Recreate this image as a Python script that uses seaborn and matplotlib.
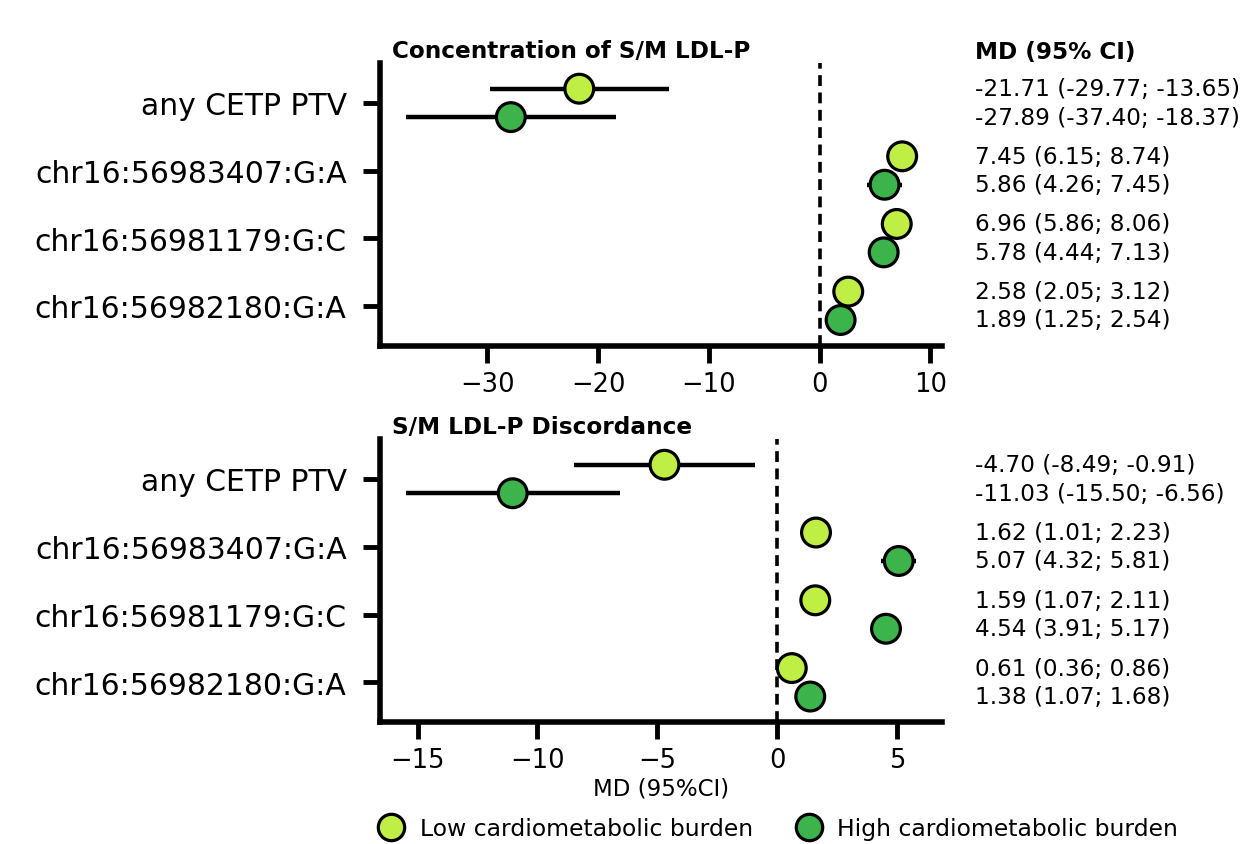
import numpy as np
import pandas as pd
import matplotlib
matplotlib.use("Agg")
import matplotlib.pyplot as plt
import matplotlib.transforms as mtransforms
from matplotlib.lines import Line2D
import seaborn as sns

# ---------------- data ----------------
variants = ["any CETP PTV", "chr16:56983407:G:A", "chr16:56981179:G:C", "chr16:56982180:G:A"]
groups = ["Low cardiometabolic burden", "High cardiometabolic burden"]
panel_titles = ["Concentration of S/M LDL-P", "S/M LDL-P Discordance"]

conc_low_md = [-21.71, 7.45, 6.96, 2.58]
conc_low_lo = [-29.77, 6.15, 5.86, 2.05]
conc_low_hi = [-13.65, 8.74, 8.06, 3.12]
conc_high_md = [-27.89, 5.86, 5.78, 1.89]
conc_high_lo = [-37.40, 4.26, 4.44, 1.25]
conc_high_hi = [-18.37, 7.45, 7.13, 2.54]

disc_low_md = [-4.70, 1.62, 1.59, 0.61]
disc_low_lo = [-8.49, 1.01, 1.07, 0.36]
disc_low_hi = [-0.91, 2.23, 2.11, 0.86]
disc_high_md = [-11.03, 5.07, 4.54, 1.38]
disc_high_lo = [-15.50, 4.32, 3.91, 1.07]
disc_high_hi = [-6.56, 5.81, 5.17, 1.68]

# ---------------- style ----------------
sns.set_style("ticks")
plt.rcParams["font.family"] = ["DejaVu Sans"]
for key in ["text.color", "axes.labelcolor", "axes.edgecolor", "xtick.color", "ytick.color"]:
    plt.rcParams[key] = "black"
colors = {groups[0]: "#bfef45", groups[1]: "#3cb44b"}
offsets = {groups[0]: -0.21, groups[1]: 0.21}


def build_df(low_md, low_lo, low_hi, high_md, high_lo, high_hi):
    rows = []
    for g, md, lo, hi in [(groups[0], low_md, low_lo, low_hi),
                          (groups[1], high_md, high_lo, high_hi)]:
        for i, v in enumerate(variants):
            rows.append(dict(variant=v, group=g, md=md[i], lo=lo[i], hi=hi[i],
                             y=i + offsets[g]))
    return pd.DataFrame(rows)


dfs = [build_df(conc_low_md, conc_low_lo, conc_low_hi, conc_high_md, conc_high_lo, conc_high_hi),
       build_df(disc_low_md, disc_low_lo, disc_low_hi, disc_high_md, disc_high_lo, disc_high_hi)]

W, H = 1243, 845
fig = plt.figure(figsize=(W / 100, H / 100), dpi=100)
ax_boxes = [
    [380 / W, 1 - 346.7 / H, (942 - 380) / W, (346.7 - 64) / H],
    [380 / W, 1 - 723.3 / H, (942 - 380) / W, (723.3 - 440) / H],
]
title_y = [52, 428]

for k, df in enumerate(dfs):
    ax = fig.add_axes(ax_boxes[k])
    # CI lines
    for g in groups:
        sub = df[df.group == g]
        ax.hlines(sub["y"], sub["lo"], sub["hi"], color="black", lw=3.2, zorder=2)
    sns.scatterplot(data=df, x="md", y="y", hue="group", palette=colors,
                    s=430, edgecolor="black", linewidth=2.3, zorder=3,
                    legend=False, ax=ax)
    ax.axvline(0, color="black", ls=(0, (3.0, 1.8)), lw=2.6, zorder=1)
    ax.set_yticks(range(len(variants)))
    ax.set_yticklabels(variants, fontsize=21.5)
    ax.set_ylim(len(variants) - 1 + 0.59, -0.59)
    ax.set_xlabel("")
    ax.set_ylabel("")
    ax.tick_params(axis="x", labelsize=18.5, width=3.5, length=12, pad=6)
    ax.tick_params(axis="y", width=3.5, length=12, pad=12)
    for s in ["left", "bottom"]:
        ax.spines[s].set_linewidth(4)
    sns.despine(ax=ax)

    fig.text(392 / W, 1 - title_y[k] / H, panel_titles[k], fontsize=16.7,
             fontweight="bold", va="center", ha="left")

    # right column text
    trans = mtransforms.blended_transform_factory(fig.transFigure, ax.transData)
    for _, r in df.iterrows():
        ax.text(975 / W, r["y"], f"{r['md']:.2f} ({r['lo']:.2f}; {r['hi']:.2f})",
                transform=trans, fontsize=16.7, va="center", ha="left", clip_on=False)
    if k == 1:
        ax.set_xlabel("MD (95%CI)", fontsize=16.5, labelpad=2)

fig.text(975 / W, 1 - 52 / H, "MD (95% CI)", fontsize=16.7, fontweight="bold",
         va="center", ha="left")

handles = [Line2D([0], [0], marker="o", ls="", markersize=19, markerfacecolor=colors[g],
                  markeredgecolor="black", markeredgewidth=2.3) for g in groups]
fig.legend(handles, groups, loc="center", bbox_to_anchor=(773 / W, 1 - 830 / H),
           ncol=2, frameon=False, fontsize=16.9, handletextpad=0.2, columnspacing=1.4)

fig.savefig("out.png", dpi=100)
